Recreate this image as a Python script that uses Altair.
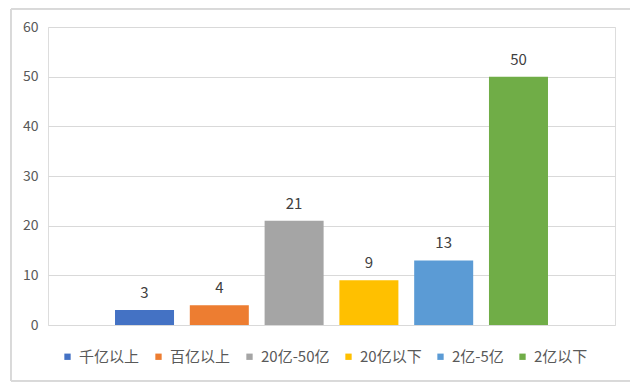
import altair as alt
import pandas as pd

categories = ["千亿以上", "百亿以上", "20亿-50亿", "20亿以下", "2亿-5亿", "2亿以下"]
values = [3, 4, 21, 9, 13, 50]
colors = ["#4472C4", "#ED7D31", "#A5A5A5", "#FFC000", "#5B9BD5", "#70AD47"]
y_ticks = [0, 10, 20, 30, 40, 50, 60]

df = pd.DataFrame({"category": categories, "value": values})

FONT = "Noto Sans CJK SC"

x_enc = alt.X("category:N", sort=categories,
              scale=alt.Scale(paddingInner=0.211, paddingOuter=0.896),
              axis=None)
y_enc = alt.Y("value:Q", scale=alt.Scale(domain=[0, 60], nice=False),
              axis=alt.Axis(values=y_ticks, title=None, domain=False, ticks=False,
                            labelPadding=10, labelFontSize=14, labelColor="#595959",
                            labelFont=FONT, gridColor="#d9d9d9", gridWidth=1))

bars = alt.Chart(df).mark_bar().encode(
    x=x_enc,
    y=y_enc,
    color=alt.Color("category:N", sort=categories,
                    scale=alt.Scale(domain=categories, range=colors),
                    legend=alt.Legend(title=None, orient="none", direction="horizontal",
                                      legendX=12, legendY=322, padding=0,
                                      symbolType="square", symbolSize=40,
                                      symbolStrokeWidth=0, labelOffset=4,
                                      columnPadding=11,
                                      labelFontSize=15, labelColor="#595959",
                                      labelFont=FONT)),
)

labels = alt.Chart(df).mark_text(baseline="alphabetic", dy=-12, fontSize=15,
                                 color="#404040", font=FONT).encode(
    x=alt.X("category:N", sort=categories),
    y="value:Q",
    text="value:Q",
)

border = alt.Chart(df).mark_rect(fillOpacity=0, stroke="#d9d9d9", strokeWidth=1).encode(
    x=alt.value(-37), x2=alt.value(583), y=alt.value(-18), y2=alt.value(354)
)

chart = alt.layer(border, bars, labels).properties(
    width=567, height=298,
    autosize=alt.AutoSizeParams(type="none"),
    padding={"left": 40, "top": 19, "right": 15, "bottom": 57},
).configure_view(stroke=None).configure(font=FONT)

chart.save("out.html", embed_options={"renderer": "svg", "actions": False})
